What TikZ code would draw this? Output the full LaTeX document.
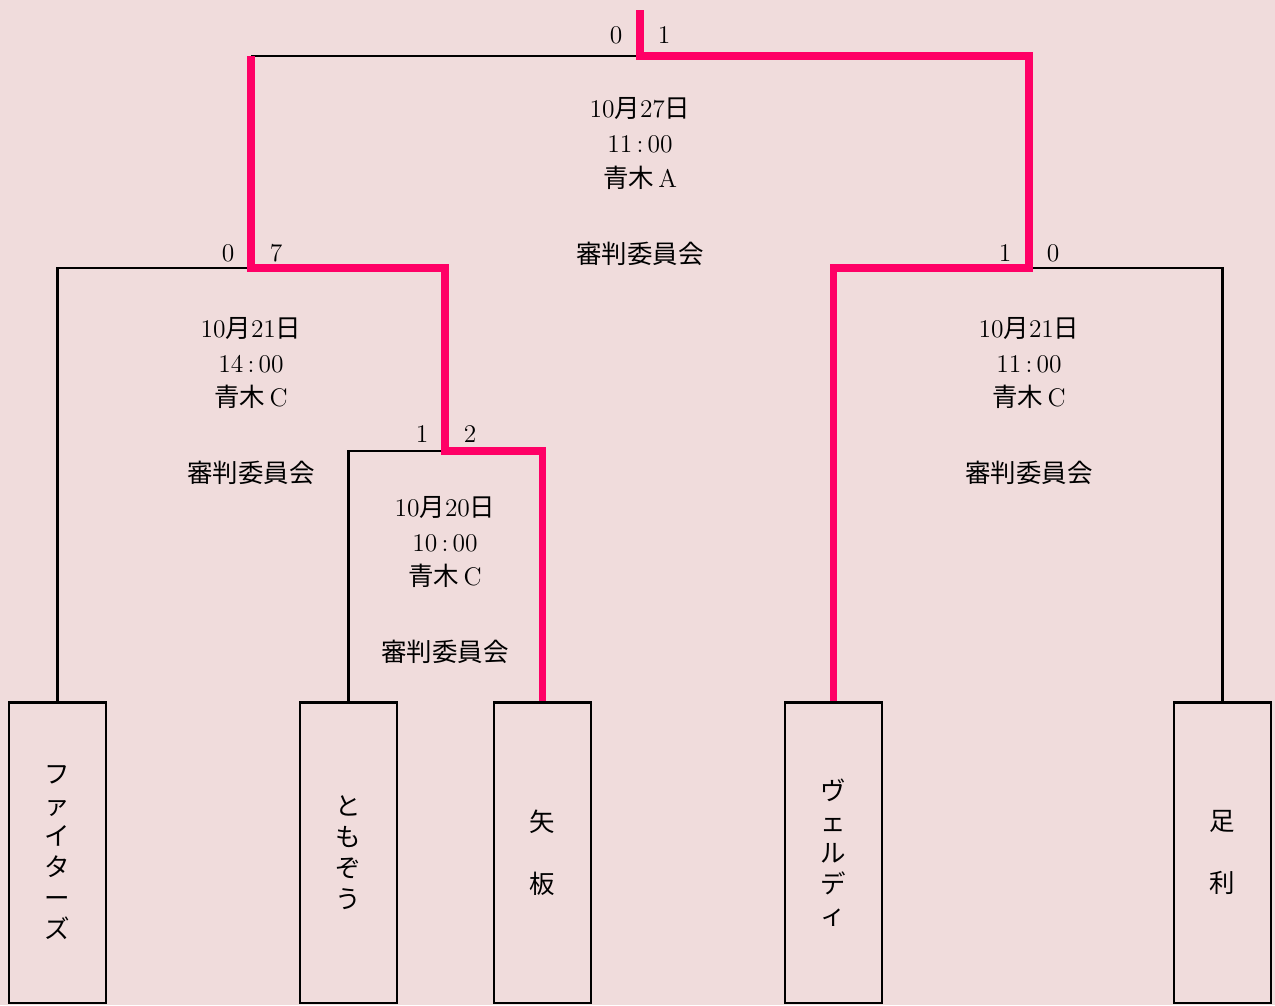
\documentclass[tikz,border=0pt]{standalone}
\usepackage{fontspec}
\newfontfamily\jpfont{Noto Sans CJK JP}
\newcommand{\jp}[1]{{\jpfont #1}}

\definecolor{bgpink}{HTML}{F0DCDC}
\definecolor{winpink}{HTML}{FF0066}

\tikzset{
	team/.style={draw=black, line width=1.4pt, minimum width=1.94cm, minimum height=6.01cm, inner sep=0pt, align=center, font=\fontsize{14.5}{17.6}\selectfont\jpfont},
	info/.style={align=center, font=\fontsize{14.5}{19.9}\selectfont},
	score/.style={inner sep=0pt, font=\fontsize{14.5}{17}\selectfont},
	loser/.style={draw=black, line width=1.3pt},
	winner/.style={draw=winpink, line width=4pt},
}

\begin{document}
\begin{tikzpicture}[x=0.02cm, y=-0.02cm]
\fill[bgpink] (0,0) rectangle (1275,1005);

% teams
\node[team] (fighters) at (57.5,852.5) {フ\\ァ\\イ\\タ\\ー\\ズ};
\node[team] (tomozou) at (348.5,852.5) {と\\も\\ぞ\\う};
\node[team] (yaita) at (542.5,852.5) {矢\\[17.6pt]板};
\node[team] (verdy) at (833.5,852.5) {ヴ\\ェ\\ル\\デ\\ィ};
\node[team] (ashikaga) at (1222.5,852.5) {足\\[17.6pt]利};

% match points
\coordinate (m1) at (445,451);
\coordinate (m2) at (251,268);
\coordinate (m3) at (1029,268);
\coordinate (fin) at (640,56);
\coordinate (top) at (640,10);

\draw[loser] (tomozou.north) |- (m1);
\draw[loser] (fighters.north) |- (m2);
\draw[loser] (ashikaga.north) |- (m3);
\draw[loser] (m2 |- fin) -- (fin);

\draw[winner] (yaita.north) |- (m1) |- (m2) -- (m2 |- fin);
\draw[winner] (top) -- (fin) -| (m3) -| (verdy.north);

% scores
\node[score] (f0) at (616,35) {0};
\node[score] (f1) at (664,35) {1};
\node[score] (l0) at (228,253) {0};
\node[score] (l7) at (276,253) {7};
\node[score] (r1) at (1005,253) {1};
\node[score] (r0) at (1053,253) {0};
\node[score] (s1) at (422,434) {1};
\node[score] (s2) at (470,434) {2};

% dates, times, grounds
\node[info] (finfo) at (640,181.5) {10\jp{月}27\jp{日}\\11\,:\,00\\\jp{青木}\,A\\[23.3pt]\jp{審判委員会}};
\node[info] (linfo) at (251,401) {10\jp{月}21\jp{日}\\14\,:\,00\\\jp{青木}\,C\\[23.3pt]\jp{審判委員会}};
\node[info] (rinfo) at (1029,401) {10\jp{月}21\jp{日}\\11\,:\,00\\\jp{青木}\,C\\[23.3pt]\jp{審判委員会}};
\node[info] (sinfo) at (445,580) {10\jp{月}20\jp{日}\\10\,:\,00\\\jp{青木}\,C\\[23.3pt]\jp{審判委員会}};

\end{tikzpicture}
\end{document}
